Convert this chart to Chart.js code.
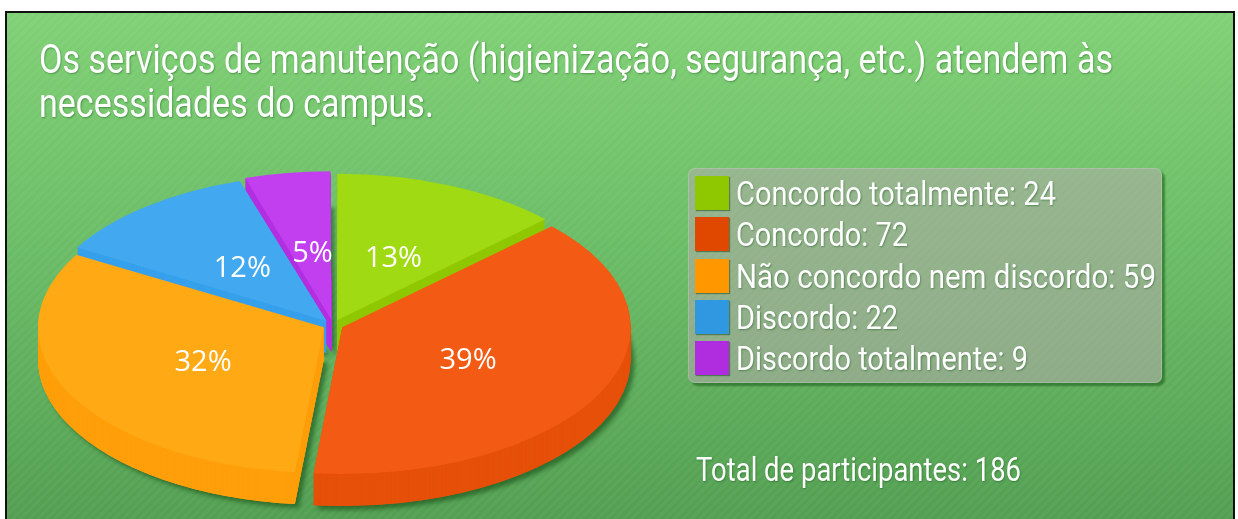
<!DOCTYPE html>
<html lang="pt">
<head>
    <meta charset="UTF-8">
    <title>Serviços de manutenção</title>
    <style>
        html, body { margin: 0; padding: 0; background: #fff; }
        #page { position: relative; width: 1238px; height: 519px; overflow: hidden; }
        #frame {
            position: absolute; left: 5px; top: 11px; width: 1226px; height: 520px;
            border: 2px solid #111; box-sizing: content-box;
            background:
                repeating-linear-gradient(135deg, rgba(255,255,255,.022) 0 3px, rgba(0,0,0,.01) 3px 6px),
                linear-gradient(180deg, #81d277 0%, #6cbe68 45%, #539f52 100%);
        }
        #myCanvas { position: absolute; left: 0; top: 0; }
        .txt { position: absolute; color: #fff; font-family: Roboto, "Liberation Sans", sans-serif; font-weight: 400; white-space: nowrap; text-shadow: 1px 1px 2px rgba(0,70,0,.4); transform-origin: 0 0; }
        #title { left: 39px; top: 38px; font-size: 40px; line-height: 44px; }
        #panel {
            position: absolute; left: 688px; top: 168px; width: 472px; height: 213px; border-radius: 7px;
            background: rgba(187,170,178,.5);
            border: 1px solid rgba(255,255,255,.18);
            box-shadow: 3px 3px 2px rgba(20,90,20,.55);
        }
        .row { position: absolute; left: 6px; height: 34px; }
        .box { position: absolute; left: 0; top: 0; width: 34px; height: 34px; box-shadow: 1px 1px 1px rgba(20,70,20,.5); }
        .row .txt { left: 41px; top: -1px; font-size: 34px; line-height: 36px; }
        #total { left: 696px; top: 450px; font-size: 34px; line-height: 38px; }
    </style>
</head>
<body>
    <div id="page">
        <div id="frame"></div>
        <canvas id="myCanvas" width="1238" height="519"></canvas>
        <div id="title" class="txt"></div>
        <div id="panel"></div>
        <div id="total" class="txt"></div>
    </div>
    <script src="https://cdn.jsdelivr.net/npm/chart.js@4/dist/chart.umd.js"></script>
    <script>
        const titleLines = ['Os serviços de manutenção (higienização, segurança, etc.) atendem às', 'necessidades do campus.'];
        const categories = ['Concordo totalmente', 'Concordo', 'Não concordo nem discordo', 'Discordo', 'Discordo totalmente'];
        const values = [24, 72, 59, 22, 9];
        const percents = ['13%', '39%', '32%', '12%', '5%'];
        const totalLabel = 'Total de participantes: 186';
        const topColors = ['#a0da12', '#f35a14', '#ffa914', '#42a9f0', '#c23ff0'];
        const sideColors = ['#8fc800', '#e65009', '#ff9f0a', '#36a0ec', '#b22fe0'];
        const legendColors = ['#8fc800', '#e04800', '#ff9800', '#3098e0', '#b02cdf'];

        // where the squashed pie lands on the page
        const pieX = 333, pieY = 325, pieRx = 285, pieRy = 145, pieDepth = 32;
        const drawOrder = [4, 3, 0, 2, 1];

        // no narrow font installed, so squeeze the text to the reference widths
        function squeeze(el, width) {
            el.style.transform = 'scaleX(' + (width / el.getBoundingClientRect().width) + ')';
        }

        const title = document.getElementById('title');
        title.innerHTML = titleLines.join('<br>');
        squeeze(title, 1074);
        const total = document.getElementById('total');
        total.textContent = totalLabel;
        squeeze(total, 325);
        const panel = document.getElementById('panel');
        const rowWidths = [320, 172, 420, 162, 292];
        categories.forEach(function (name, i) {
            const row = document.createElement('div');
            row.className = 'row';
            row.style.top = (7 + i * 41.3) + 'px';
            row.innerHTML = '<div class="box" style="background:' + legendColors[i] + '"></div><div class="txt">' + name + ': ' + values[i] + '</div>';
            panel.appendChild(row);
            squeeze(row.querySelector('.txt'), rowWidths[i]);
        });

        function withPie(chart, arc, dz, fn) {
            const ctx = chart.ctx;
            ctx.save();
            ctx.translate(pieX, pieY + dz);
            ctx.scale(pieRx / arc.outerRadius, pieRy / arc.outerRadius);
            ctx.translate(-arc.x, -arc.y);
            fn(ctx);
            ctx.restore();
        }

        function paintArc(chart, arc, color, dz) {
            const saved = arc.options;
            arc.options = Object.assign({}, saved, { backgroundColor: color, borderWidth: 0 });
            withPie(chart, arc, dz, function (ctx) { arc.draw(ctx); });
            arc.options = saved;
        }

        const pie3d = {
            id: 'pie3d',
            beforeDatasetsDraw: function (chart) {
                const ctx = chart.ctx;
                const arcs = chart.getDatasetMeta(0).data;
                // soft shadow under the block
                ctx.save();
                ctx.shadowColor = 'rgba(10,60,10,.5)';
                ctx.shadowBlur = 4;
                ctx.shadowOffsetX = 4;
                ctx.shadowOffsetY = 4;
                drawOrder.forEach(function (i) { paintArc(chart, arcs[i], sideColors[i], pieDepth); });
                ctx.restore();
                // side walls, back to front
                drawOrder.forEach(function (i) {
                    for (let d = pieDepth; d > 0; d--) paintArc(chart, arcs[i], sideColors[i], d);
                });
                drawOrder.forEach(function (i) { paintArc(chart, arcs[i], topColors[i], 0); });
                // percent labels
                ctx.save();
                ctx.font = '29px "Open Sans"';
                ctx.fillStyle = '#fff';
                ctx.textAlign = 'center';
                ctx.textBaseline = 'middle';
                arcs.forEach(function (arc, i) {
                    const mid = (arc.startAngle + arc.endAngle) / 2;
                    const r = 0.52;
                    ctx.fillText(percents[i], pieX + 2 + Math.cos(mid) * r * pieRx, pieY + 3 + Math.sin(mid) * r * pieRy);
                });
                ctx.restore();
                return false;
            }
        };

        var ctx = document.getElementById('myCanvas').getContext('2d');
        var myChart = new Chart(ctx, {
            type: 'pie',
            data: {
                labels: categories,
                datasets: [{ data: values, backgroundColor: topColors, borderWidth: 0, offset: 20 }]
            },
            options: {
                responsive: false,
                animation: false,
                rotation: 0,
                layout: { padding: { left: 100, right: 838, top: 100, bottom: 119 } },
                plugins: { legend: { display: false }, tooltip: { enabled: false } }
            },
            plugins: [pie3d]
        });
    </script>
</body>
</html>
